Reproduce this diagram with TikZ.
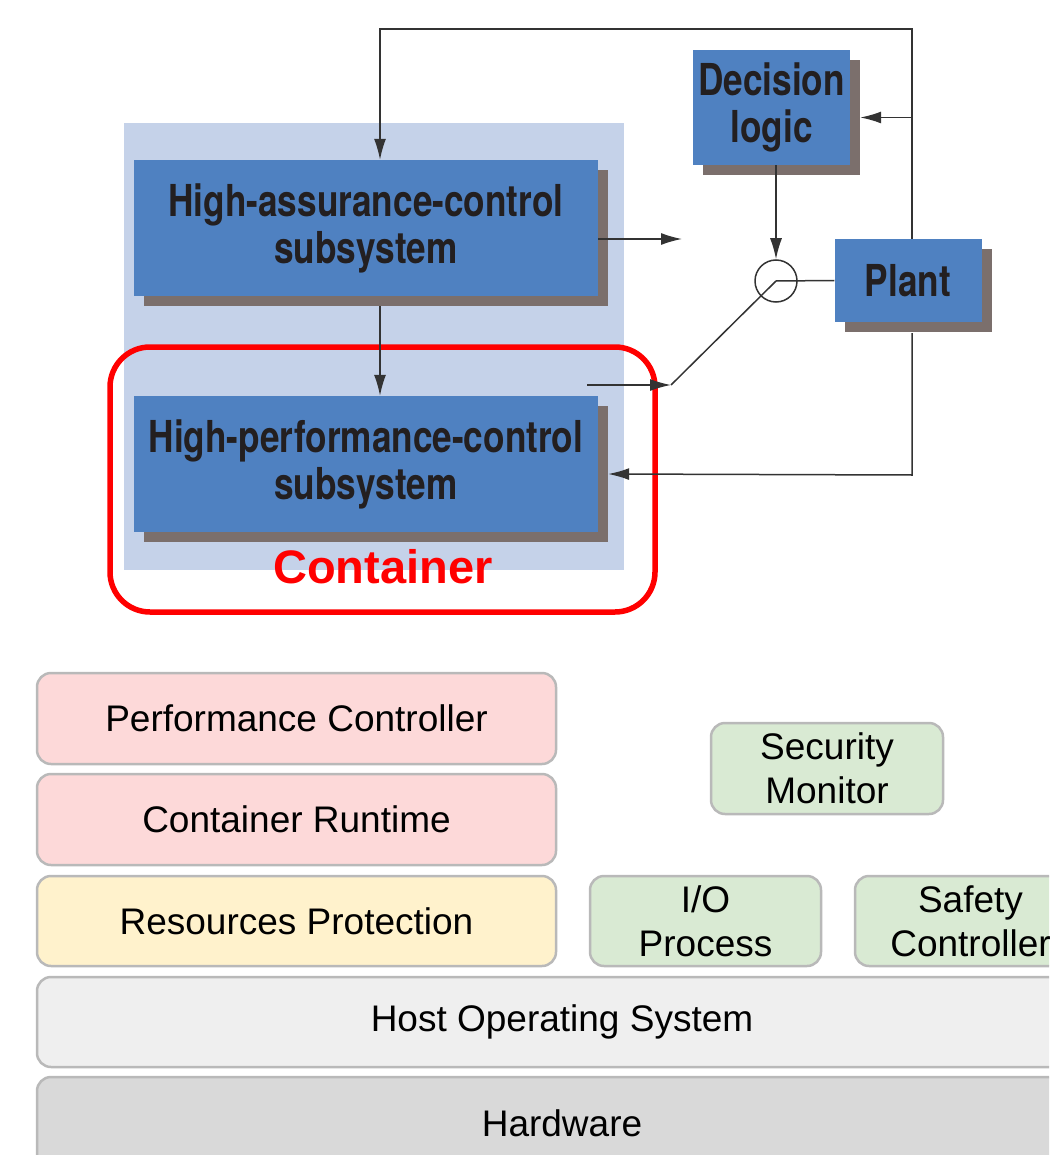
\documentclass[tikz,border=0pt]{standalone}
\usepackage{fontspec}
\usepackage{xcolor}
\usetikzlibrary{positioning, arrows.meta, calc, shadows}
\newfontfamily\blockfont[FakeStretch=0.8]{TeX Gyre Heros}
\newfontfamily\labelfont{Liberation Sans}
\definecolor{blockblue}{HTML}{4F81C1}
\definecolor{blockshade}{HTML}{7B6F6C}
\definecolor{groupblue}{HTML}{C5D2E9}
\definecolor{inkgray}{HTML}{333333}
\definecolor{textdark}{HTML}{231F20}
\definecolor{ctrred}{HTML}{FF0000}
\definecolor{layerline}{HTML}{B9B9B9}
\definecolor{layerpink}{HTML}{FDD9D9}
\definecolor{layeryellow}{HTML}{FFF2CC}
\definecolor{layergreen}{HTML}{D9EAD3}
\definecolor{layerlight}{HTML}{EFEFEF}
\definecolor{layerdark}{HTML}{D9D9D9}

\begin{document}
\begin{tikzpicture}[x=1pt, y=-1pt]
  \tikzset{
    block/.style={fill=blockblue, inner sep=0pt, align=center, text=textdark,
      font=\blockfont\bfseries\fontsize{44}{47}\selectfont,
      general shadow={fill=blockshade, shadow xshift=10pt, shadow yshift=-10pt}},
    group/.style={fill=groupblue, inner sep=0pt},
    ctr/.style={draw=ctrred, line width=5.5pt, rounded corners=40pt, inner sep=0pt},
    ctrlabel/.style={text=ctrred, font=\labelfont\bfseries\fontsize{47}{50}\selectfont},
    junction/.style={circle, draw=inkgray, line width=1.5pt, minimum size=42pt, inner sep=0pt},
    conn/.style={draw=inkgray, line width=1.5pt},
    arr/.style={conn, -{Latex[length=21pt, width=12pt]}},
    layer/.style={draw=layerline, line width=2.5pt, rounded corners=14pt, inner sep=0pt,
      align=center, font=\labelfont\fontsize{37}{44}\selectfont},
  }
  \useasboundingbox (0,0) rectangle (1049,1155);
  \clip (0,0) rectangle (1049,1155);

  %% Top: simplex architecture
  \node[group, minimum width=500pt, minimum height=447pt] (grp) at (374,346.5) {};
  \node[ctr, minimum width=545pt, minimum height=265pt] (cont) at (382.5,479.5) {};
  \node[block, minimum width=464pt, minimum height=136pt] (ha) at (366,228) {High-assurance-control\\subsystem};
  \node[block, minimum width=464pt, minimum height=136pt] (hp) at (366,464) {High-performance-control\\subsystem};
  \node[block, minimum width=157pt, minimum height=115pt] (dl) at (771.5,107.5) {Decision\\logic};
  \node[block, minimum width=147pt, minimum height=83pt] (plant) at (908,280.5) {Plant};
  \node[junction] (sw) at (776,281) {};
  \node[ctrlabel] (ctrtxt) at (383,567) {Container};

  \coordinate (tl) at (380,29);
  \coordinate (tr) at (912,29);
  \coordinate (br) at (912,475);
  \coordinate (haout) at (682,239);
  \coordinate (hpout) at (587,385);
  \coordinate (kink) at (671,385);
  \coordinate (dlin) at ($(dl.east)+(10,10)$);
  \coordinate (hpin) at ($(hp.east)+(10,10)$);

  \draw[arr] (tr |- plant.north) -- (tr) -- (tl) -- (tl |- ha.north);
  \draw[arr] ($(tl |- ha.south)+(0,10)$) -- (tl |- hp.north);
  \draw[arr] ($(ha.east)+(0,11)$) -- (haout);
  \draw[arr] (tr |- dlin) -- (dlin);
  \draw[arr] (dl.south -| sw) -- (sw.north);
  \draw[conn] (sw.center) -- (plant.west);
  \draw[arr] (hpout) -- (kink);
  \draw[conn] (kink) -- (sw.center);
  \draw[arr] ($(tr |- plant.south)+(0,11)$) -- (br) -- (hpin);

  %% Bottom: software stack
  \node[layer, fill=layerpink, minimum width=519pt, minimum height=91pt] (pc) at (296.5,718.5) {Performance Controller};
  \node[layer, fill=layerpink, minimum width=519pt, minimum height=91pt] (cr) at (296.5,819.5) {Container Runtime};
  \node[layer, fill=layeryellow, minimum width=519pt, minimum height=90pt] (rp) at (296.5,921) {Resources Protection};
  \node[layer, fill=layergreen, minimum width=232pt, minimum height=91pt] (sm) at (827,768.5) {Security\\Monitor};
  \node[layer, fill=layergreen, minimum width=231pt, minimum height=90pt] (io) at (705.5,921) {I/O\\Process};
  \node[layer, fill=layergreen, minimum width=231pt, minimum height=90pt] (sc) at (970.5,921) {Safety\\Controller};
  \node[layer, fill=layerlight, minimum width=1050pt, minimum height=90pt] (hos) at (562,1022) {Host Operating System};
  \node[layer, fill=layerdark, minimum width=1050pt, minimum height=92pt] (hw) at (562,1123) {Hardware};
\end{tikzpicture}
\end{document}
